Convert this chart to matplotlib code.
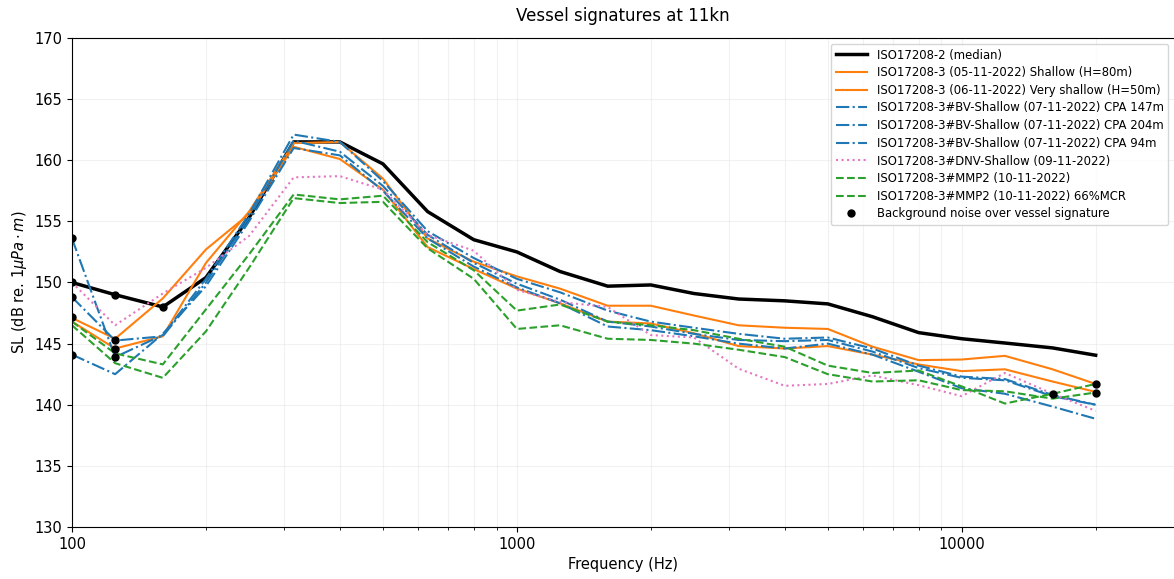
import numpy as np
import matplotlib
matplotlib.use('Agg')
import matplotlib.pyplot as plt
from matplotlib.ticker import FixedLocator, FixedFormatter, NullFormatter

# third-octave band centre frequencies
freq = [100, 125, 160, 200, 250, 315, 400, 500, 630, 800, 1000, 1250, 1600,
        2000, 2500, 3150, 4000, 5000, 6300, 8000, 10000, 12500, 16000, 20000]

median = [150.0, 149.0, 148.0, 150.4, 155.3, 161.5, 161.5, 159.7, 155.8, 153.5, 152.5, 150.9, 149.7,
          149.8, 149.1, 148.65, 148.5, 148.25, 147.2, 145.9, 145.4, 145.05, 144.65, 144.05]
shallow_80 = [147.1, 145.4, 148.7, 152.7, 155.6, 161.1, 160.1, 157.6, 152.9, 151.1, 149.5, 148.3, 146.8,
              146.65, 145.85, 144.8, 144.6, 144.8, 144.1, 143.3, 142.75, 142.9, 141.9, 141.05]
shallow_50 = [146.8, 144.6, 145.6, 151.6, 155.8, 161.4, 161.5, 158.5, 153.6, 151.7, 150.5, 149.5, 148.1,
              148.1, 147.3, 146.5, 146.3, 146.2, 144.75, 143.65, 143.7, 144.0, 142.9, 141.7]
bv_147 = [153.6, 143.9, 145.7, 150.3, 155.6, 162.1, 161.5, 158.3, 154.2, 152.0, 150.3, 149.2, 147.7,
          146.8, 146.3, 145.8, 145.4, 145.5, 144.6, 143.2, 142.3, 142.1, 140.8, 140.0]
bv_204 = [148.8, 145.25, 145.6, 150.0, 155.3, 161.6, 160.7, 157.9, 153.9, 151.6, 149.9, 148.6, 146.8,
          146.4, 145.8, 145.3, 145.2, 145.3, 144.35, 143.0, 142.2, 142.0, 140.7, 140.0]
bv_94 = [144.1, 142.5, 145.8, 149.7, 155.0, 161.0, 160.4, 157.5, 153.6, 151.3, 149.6, 148.3, 146.4,
         146.1, 145.6, 145.0, 144.6, 145.0, 144.1, 142.7, 141.35, 140.9, 139.85, 138.85]
dnv = [150.0, 146.5, 149.1, 151.2, 153.8, 158.6, 158.7, 157.6, 153.9, 152.6, 149.4, 148.4, 148.0,
       145.7, 145.5, 142.95, 141.55, 141.7, 142.4, 141.6, 140.7, 142.6, 140.9, 139.5]
mmp2 = [146.8, 144.2, 143.3, 147.8, 152.3, 157.2, 156.8, 157.1, 153.3, 151.0, 147.7, 148.2, 146.8,
        146.5, 146.1, 145.4, 144.75, 143.2, 142.6, 142.8, 141.5, 140.1, 140.9, 141.7]
mmp2_66 = [146.5, 143.4, 142.2, 146.0, 151.2, 156.9, 156.5, 156.6, 152.8, 150.3, 146.2, 146.5, 145.4,
           145.3, 145.0, 144.5, 143.9, 142.5, 141.9, 142.0, 141.2, 141.1, 140.5, 141.0]

# background noise over vessel signature
bg_freq = [100, 100, 100, 100, 100, 125, 125, 125, 125, 160, 16000, 20000, 20000]
bg_level = [153.6, 150.0, 148.8, 147.2, 144.1, 149.0, 145.3, 144.6, 143.9, 148.0, 140.9, 141.7, 141.0]

fig = plt.figure(figsize=(11.74, 5.79), dpi=100)
ax = fig.add_axes([72 / 1174, 52 / 579, 1102 / 1174, 489 / 579])

ax.plot(freq, median, color='black', lw=2.5, label='ISO17208-2 (median)')
ax.plot(freq, shallow_80, color='tab:orange', lw=1.5, label='ISO17208-3 (05-11-2022) Shallow (H=80m)')
ax.plot(freq, shallow_50, color='tab:orange', lw=1.5, label='ISO17208-3 (06-11-2022) Very shallow (H=50m)')
ax.plot(freq, bv_147, color='tab:blue', lw=1.5, ls='-.', label='ISO17208-3#BV-Shallow (07-11-2022) CPA 147m')
ax.plot(freq, bv_204, color='tab:blue', lw=1.5, ls='-.', label='ISO17208-3#BV-Shallow (07-11-2022) CPA 204m')
ax.plot(freq, bv_94, color='tab:blue', lw=1.5, ls='-.', label='ISO17208-3#BV-Shallow (07-11-2022) CPA 94m')
ax.plot(freq, dnv, color='tab:pink', lw=1.5, ls=':', label='ISO17208-3#DNV-Shallow (09-11-2022)')
ax.plot(freq, mmp2, color='tab:green', lw=1.5, ls='--', label='ISO17208-3#MMP2 (10-11-2022)')
ax.plot(freq, mmp2_66, color='tab:green', lw=1.5, ls='--', label='ISO17208-3#MMP2 (10-11-2022) 66%MCR')
ax.plot(bg_freq, bg_level, 'o', color='black', ms=5, ls='none',
        label='Background noise over vessel signature')

ax.set_xscale('log')
ax.set_xlim(100, 30000)
ax.set_ylim(130, 170)
ax.xaxis.set_major_locator(FixedLocator([100, 1000, 10000]))
ax.xaxis.set_major_formatter(FixedFormatter(['100', '1000', '10000']))
ax.xaxis.set_minor_formatter(NullFormatter())
ax.set_yticks(np.arange(130, 171, 5))
ax.tick_params(labelsize=10.5)
ax.grid(which='both', color='#e8e8e8', lw=0.8, alpha=0.6)
ax.spines['right'].set_visible(False)

ax.set_xlabel('Frequency (Hz)', fontsize=10.5)
ax.set_ylabel(r'SL (dB re. 1$\mu Pa \cdot m$)', fontsize=10.5)
ax.set_title('Vessel signatures at 11kn', fontsize=12, pad=12)
ax.legend(loc='upper right', fontsize=8.4, handlelength=2.7, labelspacing=0.4)

fig.savefig('out.png', dpi=100)
